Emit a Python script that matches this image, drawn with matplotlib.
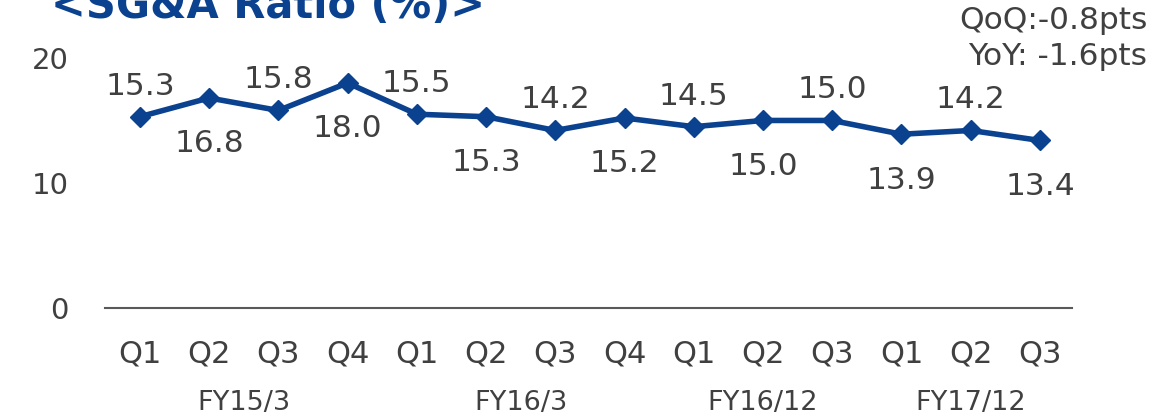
import matplotlib.pyplot as plt

quarters = ["Q1", "Q2", "Q3", "Q4", "Q1", "Q2", "Q3", "Q4", "Q1", "Q2", "Q3", "Q1", "Q2", "Q3"]
ratio = [15.3, 16.8, 15.8, 18.0, 15.5, 15.3, 14.2, 15.2, 14.5, 15.0, 15.0, 13.9, 14.2, 13.4]
years = ["FY15/3", "FY16/3", "FY16/12", "FY17/12"]
year_sizes = [4, 4, 3, 3]

blue = "#0b428f"
grey = "#404040"

fig = plt.figure(figsize=(11.65, 4.19), dpi=100)
ax = fig.add_axes([0.090, 0.265, 0.830, 0.716])

x = list(range(len(ratio)))
ax.plot(x, ratio, color=blue, lw=4, marker="D", ms=10.5, zorder=3)

# labels alternate above / below the line
for i, v in enumerate(ratio):
    off = 22 if i % 2 == 0 else -33
    ax.annotate(f"{v:.1f}", (i, v), xytext=(0, off), textcoords="offset points",
                ha="center", va="center", fontsize=22.5, color=grey)

ax.set_xlim(-0.506, len(ratio) - 1 + 0.46)
ax.set_ylim(0, 24)
ax.set_yticks([0, 10, 20])
ax.set_xticks(x)
ax.set_xticklabels(quarters, fontsize=22, color=grey)
ax.tick_params(axis="x", length=0, pad=23)
ax.tick_params(axis="y", length=0, pad=26, labelsize=21, labelcolor=grey)
for s in ["top", "right", "left"]:
    ax.spines[s].set_visible(False)
ax.spines["bottom"].set_color("#595959")
ax.spines["bottom"].set_linewidth(1.5)

start = 0
for name, n in zip(years, year_sizes):
    mid = start + (n - 1) / 2
    ax.text(mid, -7.6, name, ha="center", va="center", fontsize=19.5, color=grey)
    start += n

fig.text(0.230, 0.957, "<SG&A Ratio (%)>", ha="center", va="baseline",
         fontsize=30, fontweight="bold", color=blue)
fig.text(0.985, 0.950, "QoQ:-0.8pts", ha="right", va="center", fontsize=22.5, color=grey)
fig.text(0.985, 0.865, "YoY: -1.6pts", ha="right", va="center", fontsize=22.5, color=grey)

fig.savefig("out.png", dpi=100)
